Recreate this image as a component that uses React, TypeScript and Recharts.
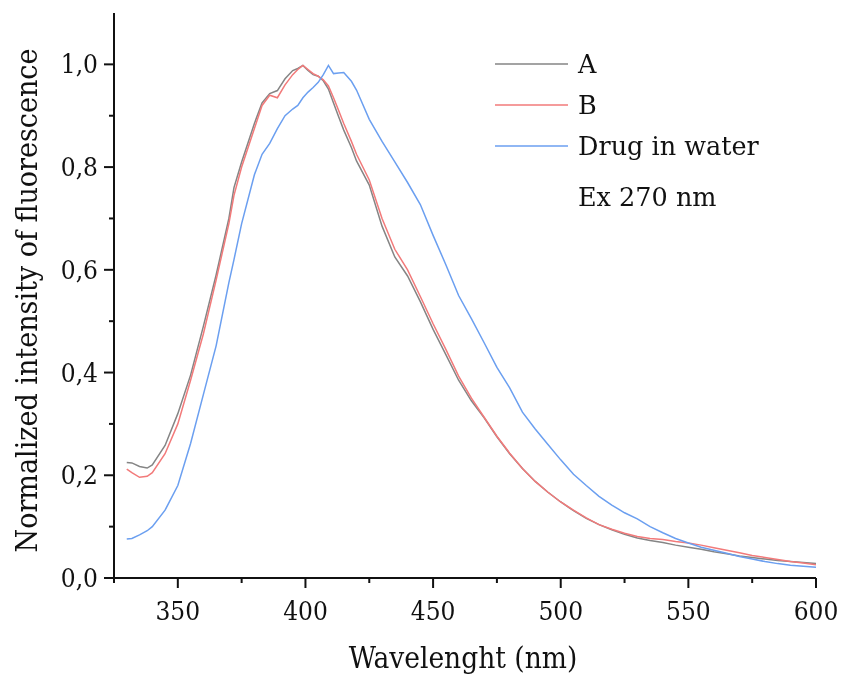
import React from 'react';
import { LineChart, Line, XAxis, YAxis, Legend, Label } from 'recharts';

const wavelengths = [330, 332, 335, 338, 340, 345, 350, 355, 360, 365, 370, 372, 375, 380, 383, 386, 389, 392, 395, 397, 399, 401, 403, 405, 407, 409, 411, 413, 415, 418, 420, 425, 430, 435, 440, 445, 450, 455, 460, 465, 470, 475, 480, 485, 490, 495, 500, 505, 510, 515, 520, 525, 530, 535, 540, 545, 550, 555, 560, 565, 570, 575, 580, 585, 590, 595, 600];

const seriesA = [0.225, 0.224, 0.217, 0.214, 0.22, 0.258, 0.32, 0.395, 0.49, 0.59, 0.7, 0.76, 0.81, 0.885, 0.925, 0.943, 0.949, 0.972, 0.988, 0.992, 0.998, 0.988, 0.98, 0.977, 0.968, 0.952, 0.925, 0.898, 0.872, 0.838, 0.812, 0.765, 0.685, 0.625, 0.588, 0.538, 0.484, 0.435, 0.385, 0.345, 0.312, 0.275, 0.242, 0.213, 0.188, 0.167, 0.148, 0.131, 0.116, 0.104, 0.094, 0.085, 0.078, 0.073, 0.069, 0.064, 0.06, 0.056, 0.051, 0.047, 0.043, 0.04, 0.037, 0.034, 0.032, 0.03, 0.028];

const seriesB = [0.212, 0.205, 0.196, 0.198, 0.205, 0.242, 0.3, 0.385, 0.475, 0.58, 0.69, 0.745, 0.8, 0.875, 0.92, 0.94, 0.935, 0.96, 0.98, 0.99, 0.998, 0.99, 0.982, 0.977, 0.97, 0.958, 0.935, 0.91, 0.885, 0.85, 0.825, 0.775, 0.7, 0.64, 0.6, 0.548, 0.495, 0.445, 0.393, 0.35, 0.313, 0.276, 0.243, 0.213, 0.188, 0.167, 0.148, 0.132, 0.117, 0.104, 0.095, 0.087, 0.081, 0.077, 0.075, 0.071, 0.068, 0.064, 0.059, 0.054, 0.049, 0.044, 0.04, 0.036, 0.032, 0.029, 0.026];

const seriesDrug = [0.076, 0.077, 0.084, 0.092, 0.1, 0.132, 0.18, 0.262, 0.357, 0.452, 0.575, 0.62, 0.69, 0.785, 0.825, 0.846, 0.875, 0.9, 0.913, 0.92, 0.935, 0.946, 0.955, 0.965, 0.98, 0.998, 0.982, 0.983, 0.984, 0.967, 0.95, 0.893, 0.85, 0.81, 0.77, 0.727, 0.667, 0.61, 0.55, 0.505, 0.458, 0.41, 0.37, 0.323, 0.29, 0.26, 0.23, 0.202, 0.18, 0.159, 0.142, 0.127, 0.115, 0.1, 0.088, 0.077, 0.068, 0.06, 0.054, 0.048, 0.042, 0.037, 0.032, 0.028, 0.025, 0.023, 0.021];

const seriesNames = ['A', 'B', 'Drug in water'];
const legendNote = 'Ex 270 nm';
const xTicks = [325, 350, 375, 400, 425, 450, 475, 500, 525, 550, 575, 600];
const yTicks = [0, 0.1, 0.2, 0.3, 0.4, 0.5, 0.6, 0.7, 0.8, 0.9, 1.0];
const xTitle = 'Wavelenght (nm)';
const yTitle = 'Normalized intensity of fluorescence';

const data = wavelengths.map((w, i) => ({ w, A: seriesA[i], B: seriesB[i], D: seriesDrug[i] }));

const FONT = '"DejaVu Serif", serif';
const CFONT = '"DejaVu Serif Condensed", "DejaVu Serif", serif';
const isMajorX = (v: number) => v % 50 === 0;
const isMajorY = (v: number) => Math.round(v * 10) % 2 === 0;
const fmtY = (v: number) => v.toFixed(1).replace('.', ',');

const BottomTick = (props: any) => {
  const { x, y, payload } = props;
  const major = isMajorX(payload.value);
  return (
    <g>
      <line x1={x} y1={y} x2={x} y2={y + (major ? 10 : 5)} stroke="#111" strokeWidth={2} />
      {major && (
        <text x={x} y={y + 33} textAnchor="middle" dominantBaseline="central" fontFamily={CFONT} fontStretch="condensed" fontSize={26} fill="#111">
          {payload.value}
        </text>
      )}
    </g>
  );
};

const TopTick = (props: any) => {
  const { x, y, payload } = props;
  const major = isMajorX(payload.value);
  return <line x1={x} y1={y} x2={x} y2={y + (major ? 10 : 5)} stroke="#111" strokeWidth={2} />;
};

const LeftTick = (props: any) => {
  const { x, y, payload } = props;
  const major = isMajorY(payload.value);
  return (
    <g>
      <line x1={x} y1={y} x2={x - (major ? 10 : 5)} y2={y} stroke="#111" strokeWidth={2} />
      {major && (
        <text x={x - 16} y={y} textAnchor="end" dominantBaseline="central" fontFamily={CFONT} fontStretch="condensed" fontSize={26} fill="#111">
          {fmtY(payload.value)}
        </text>
      )}
    </g>
  );
};

const RightTick = (props: any) => {
  const { x, y, payload } = props;
  const major = isMajorY(payload.value);
  return <line x1={x} y1={y} x2={x - (major ? 10 : 5)} y2={y} stroke="#111" strokeWidth={2} />;
};

const LegendContent = (props: any) => {
  const payload = props.payload || [];
  return (
    <svg width={300} height={170} style={{ display: 'block' }}>
      {payload.map((p: any, i: number) => (
        <g key={p.value}>
          <line x1={1} x2={74} y1={14 + i * 41} y2={14 + i * 41} stroke={p.color} strokeWidth={1.6} />
          <text x={84} y={14 + i * 41} dominantBaseline="central" fontFamily={FONT} fontSize={25.5} fill="#111">
            {p.value}
          </text>
        </g>
      ))}
      <text x={84} y={14 + 2 * 41 + 51} dominantBaseline="central" fontFamily={FONT} fontSize={25.5} fill="#111">
        {legendNote}
      </text>
    </svg>
  );
};

export default function App() {
  return (
    <div style={{ width: 843, height: 674, position: 'fixed', left: 0, top: 0, overflow: 'hidden' }}>
      <style>{'html,body{margin:0;padding:0;overflow:hidden;}'}</style>
      <LineChart width={843} height={674} data={data} margin={{ top: 13, right: 27, left: 0, bottom: 0 }}>
        <XAxis
          dataKey="w"
          type="number"
          domain={[325, 600]}
          allowDataOverflow
          ticks={xTicks}
          interval={0}
          tickSize={0}
          tickMargin={0}
          tick={<BottomTick />}
          tickLine={false}
          axisLine={{ stroke: '#111', strokeWidth: 2 }}
          height={96}
        >
          <Label
            content={(p: any) => {
              const vb = p.viewBox || {};
              return (
                <text x={vb.x + vb.width / 2 - 2} y={vb.y + 80} textAnchor="middle" dominantBaseline="central" fontFamily={CFONT} fontStretch="condensed" fontSize={29.5} fill="#111">
                  {xTitle}
                </text>
              );
            }}
          />
        </XAxis>
        <XAxis
          xAxisId="top"
          orientation="top"
          dataKey="w"
          type="number"
          domain={[325, 600]}
          allowDataOverflow
          ticks={xTicks}
          interval={0}
          tickSize={0}
          tickMargin={0}
          tick={<TopTick />}
          tickLine={false}
          axisLine={{ stroke: '#111', strokeWidth: 2 }}
          height={0}
        />
        <YAxis
          type="number"
          domain={[0, 1.1]}
          allowDataOverflow
          ticks={yTicks}
          interval={0}
          tickSize={0}
          tickMargin={0}
          tick={<LeftTick />}
          tickLine={false}
          axisLine={{ stroke: '#111', strokeWidth: 2 }}
          width={114}
        >
          <Label
            content={(p: any) => {
              const vb = p.viewBox || {};
              const cx = vb.x + 26;
              const cy = vb.y + vb.height / 2 + 5;
              return (
                <text x={cx} y={cy} transform={`rotate(-90 ${cx} ${cy})`} textAnchor="middle" dominantBaseline="central" fontFamily={CFONT} fontStretch="condensed" fontSize={30} fill="#111">
                  {yTitle}
                </text>
              );
            }}
          />
        </YAxis>
        <YAxis
          yAxisId="right"
          orientation="right"
          type="number"
          domain={[0, 1.1]}
          allowDataOverflow
          ticks={yTicks}
          interval={0}
          tickSize={0}
          tickMargin={0}
          tick={<RightTick />}
          tickLine={false}
          axisLine={{ stroke: '#111', strokeWidth: 2 }}
          width={0}
        />
        <Legend
          layout="vertical"
          align="center"
          verticalAlign="middle"
          content={<LegendContent />}
          wrapperStyle={{ left: 494, top: 50, width: 300, height: 170 }}
        />
        <Line type="linear" dataKey="A" name={seriesNames[0]} stroke="#858585" strokeWidth={1.5} dot={false} isAnimationActive={false} />
        <Line type="linear" dataKey="B" name={seriesNames[1]} stroke="#f27a7a" strokeWidth={1.5} dot={false} isAnimationActive={false} />
        <Line type="linear" dataKey="D" name={seriesNames[2]} stroke="#6b9ff0" strokeWidth={1.5} dot={false} isAnimationActive={false} />
      </LineChart>
    </div>
  );
}
